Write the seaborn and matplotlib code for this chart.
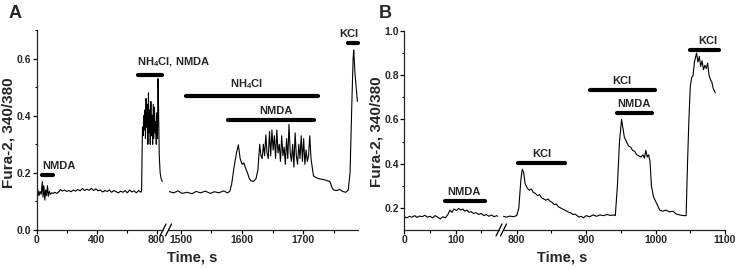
import matplotlib
matplotlib.use("Agg")
import matplotlib.pyplot as plt
from matplotlib.lines import Line2D
import seaborn as sns

# ---------------- data ----------------
# Panel A, first segment (time s, Fura-2 ratio)
A1_t = [0, 8, 15, 22, 30, 38, 42, 48, 54, 60, 66, 72, 78, 85, 92, 100, 110, 120, 135, 150,
        160, 170, 185, 200, 215, 230, 245, 260, 275, 290, 305, 320, 335, 350, 365, 380, 395,
        410, 425, 440, 455, 470, 485, 500, 515, 530, 545, 560, 575, 590, 605, 620, 635, 650,
        665, 680, 695, 700, 703, 706, 710, 714, 718, 722, 726, 730, 734, 738, 742, 746, 750,
        754, 758, 762, 766, 770, 774, 778, 782, 786, 790, 794, 798, 802, 806, 810, 814, 818,
        824, 830, 838]
A1_v = [0.125, 0.14, 0.12, 0.135, 0.125, 0.17, 0.115, 0.155, 0.105, 0.14, 0.12, 0.155, 0.118,
        0.135, 0.125, 0.13, 0.128, 0.132, 0.128, 0.135, 0.142, 0.136, 0.14, 0.135, 0.138,
        0.134, 0.14, 0.136, 0.142, 0.137, 0.145, 0.138, 0.143, 0.139, 0.146, 0.138, 0.144,
        0.137, 0.14, 0.133, 0.138, 0.135, 0.14, 0.132, 0.138, 0.134, 0.13, 0.136, 0.132,
        0.138, 0.13, 0.14, 0.133, 0.137, 0.13, 0.138, 0.132, 0.135, 0.25, 0.36, 0.33, 0.40,
        0.35, 0.42, 0.32, 0.46, 0.36, 0.44, 0.30, 0.48, 0.34, 0.42, 0.30, 0.45, 0.33, 0.40,
        0.30, 0.44, 0.32, 0.43, 0.34, 0.38, 0.30, 0.41, 0.32, 0.53, 0.40, 0.26, 0.20, 0.18,
        0.17]
# Panel A, second segment
A2_t = [1480, 1488, 1495, 1502, 1510, 1518, 1525, 1532, 1540, 1548, 1555, 1562, 1570, 1576,
        1580, 1583, 1587, 1591, 1594, 1597, 1600, 1603, 1606, 1609, 1612, 1615, 1619, 1623,
        1626, 1629, 1631, 1633, 1635, 1637, 1639, 1641, 1643, 1645, 1647, 1649, 1651, 1653,
        1655, 1657, 1659, 1661, 1663, 1665, 1667, 1669, 1671, 1673, 1675, 1677, 1679, 1681,
        1683, 1685, 1687, 1689, 1691, 1693, 1695, 1697, 1699, 1701, 1703, 1705, 1707, 1709,
        1711, 1713, 1715, 1717, 1720, 1725, 1730, 1735, 1740, 1744, 1747, 1750, 1755, 1760,
        1765, 1770, 1774, 1777, 1780, 1782, 1783, 1785, 1787, 1789]
A2_v = [0.135, 0.13, 0.137, 0.128, 0.132, 0.127, 0.135, 0.13, 0.136, 0.128, 0.134, 0.13,
        0.137, 0.13, 0.135, 0.16, 0.22, 0.27, 0.298, 0.25, 0.23, 0.235, 0.215, 0.2, 0.18,
        0.172, 0.17, 0.18, 0.21, 0.30, 0.26, 0.25, 0.3, 0.26, 0.333, 0.27, 0.25, 0.345, 0.26,
        0.35, 0.28, 0.33, 0.25, 0.35, 0.27, 0.30, 0.24, 0.33, 0.26, 0.29, 0.23, 0.32, 0.25,
        0.37, 0.27, 0.24, 0.30, 0.22, 0.34, 0.26, 0.23, 0.30, 0.25, 0.33, 0.24, 0.32, 0.23,
        0.28, 0.24, 0.26, 0.33, 0.25, 0.22, 0.19, 0.185, 0.18, 0.178, 0.176, 0.172, 0.17,
        0.15, 0.14, 0.138, 0.142, 0.135, 0.132, 0.14, 0.2, 0.45, 0.6, 0.63, 0.55, 0.5, 0.45]

# Panel B, first segment
B1_t = [0, 5, 10, 15, 20, 25, 30, 35, 40, 45, 50, 55, 60, 65, 70, 75, 80, 85, 89, 93, 97,
        102, 106, 110, 114, 118, 122, 126, 130, 135, 140, 145, 150, 155, 160, 165, 170, 175,
        180, 182]
B1_v = [0.16, 0.155, 0.162, 0.158, 0.165, 0.157, 0.163, 0.16, 0.167, 0.158, 0.162, 0.155,
        0.165, 0.158, 0.15, 0.16, 0.155, 0.17, 0.19, 0.18, 0.195, 0.188, 0.198, 0.19, 0.195,
        0.185, 0.19, 0.18, 0.183, 0.175, 0.178, 0.17, 0.175, 0.165, 0.17, 0.162, 0.168, 0.16,
        0.165, 0.162]
# Panel B, second segment
B2_t = [781, 785, 790, 795, 800, 803, 806, 808, 810, 812, 815, 818, 821, 824, 827, 830, 833,
        836, 839, 842, 845, 848, 851, 854, 857, 860, 863, 866, 869, 872, 875, 878, 881, 884,
        887, 890, 893, 896, 900, 905, 910, 915, 920, 925, 930, 935, 940, 942, 945, 948, 951,
        953, 955, 958, 961, 964, 967, 970, 973, 976, 979, 982, 984, 986, 988, 990, 992, 994,
        997, 1000, 1003, 1006, 1010, 1015, 1020, 1025, 1030, 1035, 1040, 1044, 1046, 1048,
        1050, 1052, 1054, 1056, 1059, 1061, 1063, 1065, 1067, 1069, 1071, 1073, 1075, 1077,
        1079, 1081, 1083, 1086]
B2_v = [0.162, 0.158, 0.163, 0.16, 0.165, 0.2, 0.33, 0.375, 0.36, 0.31, 0.29, 0.28, 0.285,
        0.27, 0.265, 0.255, 0.26, 0.245, 0.24, 0.235, 0.24, 0.23, 0.225, 0.215, 0.218, 0.205,
        0.2, 0.195, 0.19, 0.185, 0.18, 0.178, 0.17, 0.172, 0.165, 0.158, 0.162, 0.155, 0.165,
        0.16, 0.168, 0.162, 0.168, 0.165, 0.17, 0.166, 0.168, 0.165, 0.3, 0.5, 0.6, 0.56,
        0.52, 0.5, 0.48, 0.475, 0.46, 0.455, 0.44, 0.435, 0.43, 0.44, 0.425, 0.46, 0.43, 0.44,
        0.41, 0.3, 0.25, 0.23, 0.21, 0.19, 0.185, 0.19, 0.182, 0.185, 0.172, 0.168, 0.165,
        0.165, 0.4, 0.6, 0.75, 0.79, 0.8, 0.86, 0.9, 0.86, 0.885, 0.84, 0.865, 0.825, 0.845,
        0.83, 0.855, 0.8, 0.78, 0.77, 0.74, 0.72]

# Application bars: start, end, level ; labels: text, x, y
A_bar_start = [33, 678, 1509, 1577, 1774]
A_bar_end = [107, 838, 1724, 1718, 1790]
A_bar_y = [0.193, 0.544, 0.470, 0.386, 0.653]
A_lab_text = ["NMDA", "NH$_{4}$Cl, NMDA", "NH$_{4}$Cl", "NMDA", "KCl"]
A_lab_x = [36, 671, 1607, 1656, 1775]
A_lab_y = [0.223, 0.588, 0.512, 0.415, 0.687]
A_lab_ha = ["left", "left", "center", "center", "center"]

B_bar_start = [79, 802, 906, 944, 1049]
B_bar_end = [157, 870, 999, 995, 1091]
B_bar_y = [0.23, 0.403, 0.734, 0.629, 0.914]
B_lab_text = ["NMDA", "KCl", "KCl", "NMDA", "KCl"]
B_lab_x = [117, 836, 951, 969, 1075]
B_lab_y = [0.271, 0.444, 0.774, 0.671, 0.955]

A_xlim1, A_xlim2, A_ylim = (0, 843), (1479.6, 1790), (0.0, 0.7)
B_xlim1, B_xlim2, B_ylim = (0, 184.6), (780.2, 1100), (0.1, 1.0)
A_ticks1, A_minor1 = [0, 400, 800], [200, 600]
A_ticks2, A_minor2 = [1500, 1600, 1700], [1550, 1650, 1750]
B_ticks1, B_minor1 = [0, 100], [50, 150]
B_ticks2, B_minor2 = [800, 900, 1000, 1100], [850, 950, 1050]
A_yticks, A_yminor = [0.0, 0.2, 0.4, 0.6], [0.1, 0.3, 0.5, 0.7]
B_yticks, B_yminor = [0.2, 0.4, 0.6, 0.8, 1.0], [0.3, 0.5, 0.7, 0.9]

# ---------------- style ----------------
sns.set_style("ticks")
plt.rcParams["font.family"] = ["Liberation Sans", "DejaVu Sans"]
plt.rcParams["font.weight"] = "bold"
plt.rcParams["mathtext.fontset"] = "custom"
plt.rcParams["mathtext.rm"] = "Liberation Sans:bold"
plt.rcParams["mathtext.it"] = "Liberation Sans:bold"
plt.rcParams["mathtext.bf"] = "Liberation Sans:bold"
plt.rcParams["axes.linewidth"] = 0.9

W, H = 739, 270
fig = plt.figure(figsize=(W / 100, H / 100), dpi=100)


def add_ax(x0, x1, ytop, ybot=230):
    return fig.add_axes([x0 / W, (H - ybot) / H, (x1 - x0) / W, (ybot - ytop) / H])


axA1 = add_ax(36.7, 163, 30)
axA2 = add_ax(168.5, 358, 30)
axB1 = add_ax(404.3, 499, 31)
axB2 = add_ax(503, 725, 31)


def style(ax, xlim, ylim, xt, xm, yt=None, ym=None, left=True):
    ax.set_xlim(*xlim)
    ax.set_ylim(*ylim)
    ax.set_xticks(xt)
    ax.set_xticks(xm, minor=True)
    ax.set_xticklabels([str(v) for v in xt])
    sns.despine(ax=ax, left=not left)
    ax.patch.set_alpha(0)
    ax.tick_params(axis="both", which="major", direction="out", length=2.9, width=0.9,
                   labelsize=7.5, pad=1.0, color="black")
    ax.tick_params(axis="both", which="minor", direction="out", length=1.8, width=0.8,
                   color="black")
    if left:
        ax.set_yticks(yt)
        ax.set_yticks(ym, minor=True)
        ax.set_yticklabels([f"{v:.1f}" for v in yt])
    else:
        ax.set_yticks([])
        ax.set_yticks([], minor=True)
    for lab in ax.get_xticklabels() + ax.get_yticklabels():
        lab.set_fontweight("bold")
    ax.set_xlabel("")
    ax.set_ylabel("")


for ax, t, v in [(axA1, A1_t, A1_v), (axA2, A2_t, A2_v), (axB1, B1_t, B1_v), (axB2, B2_t, B2_v)]:
    sns.lineplot(x=t, y=v, ax=ax, color="black", linewidth=0.8, estimator=None, sort=False)

style(axA1, A_xlim1, A_ylim, A_ticks1, A_minor1, A_yticks, A_yminor, left=True)
style(axA2, A_xlim2, A_ylim, A_ticks2, A_minor2, left=False)
style(axB1, B_xlim1, B_ylim, B_ticks1, B_minor1, B_yticks, B_yminor, left=True)
style(axB2, B_xlim2, B_ylim, B_ticks2, B_minor2, left=False)

# bars and labels
for s, e, y in zip(A_bar_start, A_bar_end, A_bar_y):
    ax = axA1 if s < 1000 else axA2
    ax.plot([s, e], [y, y], color="black", lw=3, solid_capstyle="round", clip_on=False)
for txt, x, y, ha in zip(A_lab_text, A_lab_x, A_lab_y, A_lab_ha):
    ax = axA1 if x < 1000 else axA2
    ax.text(x, y, txt, ha=ha, va="center", fontsize=8, fontweight="bold", clip_on=False)

for s, e, y in zip(B_bar_start, B_bar_end, B_bar_y):
    ax = axB1 if s < 500 else axB2
    ax.plot([s, e], [y, y], color="black", lw=3, solid_capstyle="round", clip_on=False)
for txt, x, y in zip(B_lab_text, B_lab_x, B_lab_y):
    ax = axB1 if x < 500 else axB2
    ax.text(x, y, txt, ha="center", va="center", fontsize=8, fontweight="bold", clip_on=False)

# break marks on x axes (figure pixel coords)
for xc in (163, 168.5, 499, 503.5):
    fig.add_artist(Line2D([(xc - 3) / W, (xc + 3) / W], [(H - 236) / H, (H - 224) / H],
                          color="black", lw=0.9, transform=fig.transFigure))

# axis titles and panel letters
fig.text(192 / W, 1 - 258 / H, "Time, s", ha="center", va="center", fontsize=10.5, fontweight="bold")
fig.text(562 / W, 1 - 258 / H, "Time, s", ha="center", va="center", fontsize=10.5, fontweight="bold")
fig.text(9 / W, 1 - 133 / H, "Fura-2, 340/380", ha="center", va="center", rotation=90,
         fontsize=11, fontweight="bold")
fig.text(376.5 / W, 1 - 132 / H, "Fura-2, 340/380", ha="center", va="center", rotation=90,
         fontsize=11, fontweight="bold")
fig.text(15 / W, 1 - 14 / H, "A", ha="center", va="center", fontsize=13, fontweight="bold")
fig.text(385 / W, 1 - 14 / H, "B", ha="center", va="center", fontsize=13, fontweight="bold")

fig.savefig("out.png", dpi=100)
